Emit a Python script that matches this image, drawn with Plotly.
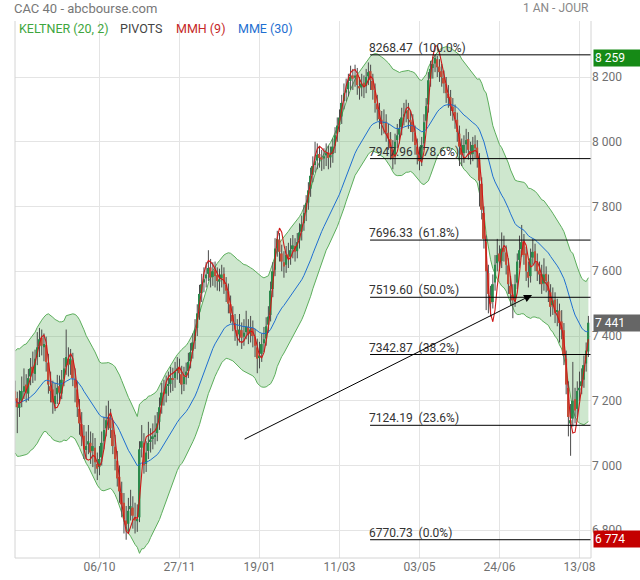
import numpy as np
import plotly.graph_objects as go

# ---------------- data ----------------
tick_index = [38, 74, 110, 146, 182, 218, 254]
tick_labels = ["06/10", "27/11", "19/01", "11/03", "03/05", "24/06", "13/08"]

opens = [
    7230, 7208, 7178, 7200, 7228, 7250, 7222, 7275, 7305, 7283,
    7335, 7368, 7395, 7365, 7372, 7318, 7245, 7235, 7190, 7220,
    7245, 7222, 7268, 7305, 7330, 7312, 7325, 7268, 7235, 7175,
    7128, 7092, 7048, 7065, 7070, 7045, 7055, 7005, 6995, 7025,
    7075, 7115, 7145, 7148, 7110, 7058, 7015, 6965, 6915, 6885,
    6830, 6820, 6865, 6870, 6840, 6828, 6840, 7055, 7070, 7005,
    7045, 7075, 7082, 7088, 7100, 7135, 7185, 7228, 7222, 7248,
    7252, 7268, 7270, 7292, 7305, 7282, 7252, 7278, 7292, 7322,
    7355, 7385, 7425, 7475, 7532, 7565, 7578, 7592, 7612, 7582,
    7605, 7588, 7568, 7578, 7592, 7558, 7538, 7498, 7465, 7440,
    7418, 7405, 7418, 7398, 7412, 7428, 7408, 7425, 7398, 7365,
    7335, 7345, 7378, 7392, 7435, 7465, 7545, 7605, 7672, 7698,
    7655, 7628, 7620, 7652, 7645, 7668, 7678, 7662, 7695, 7722,
    7748, 7782, 7812, 7855, 7898, 7928, 7942, 7962, 7952, 7948,
    7958, 7968, 7952, 7962, 7988, 8025, 8052, 8078, 8125, 8152,
    8162, 8188, 8205, 8198, 8208, 8172, 8168, 8182, 8172, 8202,
    8218, 8188, 8158, 8118, 8098, 8068, 8058, 8062, 8028, 8008,
    7975, 7955, 8005, 8022, 8045, 8078, 8088, 8098, 8068, 8062,
    8028, 7985, 7958, 7945, 7995, 8065, 8115, 8195, 8228, 8242,
    8255, 8232, 8218, 8198, 8178, 8148, 8138, 8108, 8092, 8068,
    8025, 7982, 7965, 7992, 8008, 7972, 7962, 7992, 7982, 7945,
    7870, 7780, 7690, 7595, 7525, 7505, 7565, 7625, 7655, 7632,
    7672, 7658, 7618, 7555, 7528, 7515, 7565, 7635, 7668, 7692,
    7655, 7598, 7585, 7642, 7662, 7628, 7602, 7592, 7562, 7592,
    7568, 7535, 7495, 7512, 7475, 7478, 7445, 7418, 7330, 7240,
    7130, 7145, 7205, 7175, 7232, 7245, 7265, 7315, 7352,
]
highs = [
    7262, 7228, 7232, 7275, 7300, 7282, 7298, 7332, 7352, 7358,
    7412, 7425, 7420, 7408, 7398, 7345, 7290, 7262, 7255, 7280,
    7278, 7295, 7332, 7420, 7365, 7360, 7348, 7300, 7262, 7205,
    7165, 7125, 7105, 7125, 7105, 7100, 7085, 7040, 7060, 7105,
    7150, 7185, 7200, 7175, 7140, 7095, 7045, 7000, 6950, 6915,
    6875, 6900, 6925, 6905, 6885, 6880, 7075, 7125, 7100, 7075,
    7135, 7115, 7130, 7155, 7165, 7210, 7255, 7265, 7278, 7290,
    7305, 7302, 7320, 7335, 7330, 7308, 7305, 7318, 7348, 7378,
    7408, 7452, 7498, 7558, 7592, 7612, 7628, 7665, 7638, 7628,
    7630, 7612, 7608, 7620, 7612, 7582, 7562, 7525, 7492, 7468,
    7452, 7468, 7442, 7452, 7478, 7452, 7462, 7448, 7422, 7392,
    7382, 7408, 7428, 7458, 7492, 7568, 7628, 7702, 7725, 7718,
    7682, 7662, 7678, 7688, 7702, 7712, 7702, 7718, 7748, 7772,
    7805, 7835, 7875, 7920, 7955, 8000, 7995, 7985, 7975, 7980,
    7995, 7988, 7985, 8010, 8045, 8075, 8100, 8145, 8180, 8195,
    8210, 8235, 8225, 8238, 8228, 8200, 8210, 8205, 8225, 8245,
    8238, 8210, 8180, 8145, 8120, 8095, 8100, 8085, 8055, 8030,
    8005, 8025, 8055, 8070, 8105, 8120, 8130, 8120, 8095, 8085,
    8050, 8010, 7985, 8015, 8085, 8135, 8215, 8250, 8262, 8268.47,
    8265, 8255, 8240, 8220, 8200, 8175, 8160, 8135, 8115, 8090,
    8050, 8010, 8020, 8040, 8030, 8000, 8015, 8020, 8005, 7965,
    7890, 7800, 7710, 7620, 7555, 7590, 7650, 7700, 7680, 7720,
    7710, 7680, 7640, 7585, 7560, 7590, 7655, 7710, 7743, 7715,
    7675, 7630, 7670, 7700, 7685, 7655, 7630, 7620, 7640, 7615,
    7590, 7560, 7550, 7535, 7515, 7500, 7480, 7440, 7355, 7260,
    7190, 7320, 7240, 7260, 7290, 7300, 7340, 7380, 7462,
]
lows = [
    7180, 7100, 7150, 7180, 7205, 7195, 7200, 7248, 7255, 7262,
    7310, 7335, 7340, 7322, 7290, 7222, 7195, 7160, 7168, 7190,
    7190, 7205, 7245, 7280, 7275, 7280, 7245, 7195, 7150, 7095,
    7060, 7020, 7020, 7035, 7005, 6995, 6975, 6955, 6970, 7000,
    7050, 7090, 7110, 7085, 7035, 6985, 6935, 6885, 6840, 6790,
    6770.73, 6790, 6830, 6805, 6790, 6795, 6825, 7025, 6975, 6980,
    7020, 7040, 7050, 7065, 7075, 7110, 7160, 7185, 7195, 7215,
    7225, 7230, 7240, 7265, 7255, 7220, 7230, 7250, 7270, 7300,
    7330, 7360, 7400, 7450, 7505, 7535, 7550, 7570, 7550, 7555,
    7550, 7540, 7538, 7550, 7530, 7505, 7470, 7440, 7415, 7385,
    7370, 7380, 7360, 7370, 7390, 7375, 7380, 7365, 7335, 7285,
    7300, 7320, 7350, 7370, 7410, 7445, 7520, 7585, 7645, 7630,
    7600, 7580, 7595, 7610, 7620, 7640, 7630, 7640, 7670, 7695,
    7725, 7755, 7790, 7830, 7875, 7905, 7915, 7920, 7910, 7915,
    7925, 7915, 7920, 7935, 7965, 8000, 8030, 8055, 8100, 8125,
    8140, 8160, 8160, 8170, 8145, 8130, 8140, 8135, 8150, 8175,
    8160, 8130, 8090, 8065, 8040, 8020, 8025, 8000, 7975, 7945,
    7915, 7930, 7980, 7995, 8020, 8050, 8060, 8040, 8030, 8000,
    7960, 7930, 7912, 7925, 7975, 8040, 8090, 8170, 8195, 8215,
    8200, 8185, 8170, 8150, 8120, 8105, 8080, 8065, 8040, 8000,
    7925, 7925, 7935, 7965, 7945, 7930, 7940, 7950, 7920, 7800,
    7760, 7670, 7480, 7470, 7460, 7485, 7540, 7600, 7600, 7610,
    7630, 7590, 7530, 7495, 7455, 7490, 7545, 7610, 7645, 7620,
    7570, 7550, 7565, 7620, 7600, 7570, 7560, 7530, 7540, 7535,
    7505, 7460, 7465, 7440, 7430, 7380, 7390, 7310, 7220, 7090,
    7030, 7120, 7130, 7150, 7200, 7220, 7240, 7290, 7335,
]
closes = [
    7205, 7180, 7195, 7230, 7245, 7225, 7270, 7300, 7285, 7330,
    7365, 7390, 7370, 7375, 7320, 7250, 7230, 7195, 7215, 7240,
    7225, 7265, 7300, 7335, 7310, 7330, 7270, 7240, 7180, 7130,
    7090, 7050, 7060, 7075, 7040, 7060, 7010, 6990, 7020, 7070,
    7110, 7140, 7150, 7115, 7060, 7020, 6960, 6920, 6880, 6835,
    6815, 6860, 6875, 6845, 6830, 6835, 7050, 7075, 7000, 7040,
    7070, 7080, 7090, 7095, 7130, 7180, 7225, 7220, 7245, 7250,
    7270, 7265, 7290, 7300, 7285, 7250, 7275, 7290, 7320, 7350,
    7380, 7420, 7470, 7530, 7560, 7575, 7590, 7610, 7580, 7600,
    7585, 7570, 7575, 7590, 7560, 7540, 7500, 7470, 7445, 7420,
    7400, 7420, 7395, 7410, 7430, 7405, 7420, 7400, 7370, 7330,
    7340, 7375, 7390, 7430, 7460, 7540, 7600, 7670, 7700, 7660,
    7630, 7615, 7650, 7640, 7665, 7680, 7660, 7690, 7720, 7745,
    7780, 7810, 7850, 7895, 7925, 7940, 7960, 7950, 7945, 7955,
    7965, 7950, 7960, 7985, 8020, 8050, 8075, 8120, 8150, 8160,
    8185, 8200, 8195, 8205, 8175, 8165, 8180, 8170, 8200, 8215,
    8190, 8160, 8120, 8100, 8070, 8055, 8060, 8030, 8010, 7980,
    7950, 8000, 8020, 8040, 8075, 8085, 8095, 8070, 8060, 8030,
    7990, 7960, 7940, 7990, 8060, 8110, 8190, 8225, 8240, 8259,
    8230, 8215, 8200, 8180, 8150, 8135, 8110, 8095, 8070, 8030,
    7985, 7960, 7990, 8005, 7975, 7960, 7990, 7980, 7950, 7880,
    7790, 7700, 7600, 7530, 7500, 7560, 7620, 7650, 7630, 7670,
    7660, 7620, 7560, 7530, 7510, 7560, 7630, 7665, 7690, 7650,
    7600, 7580, 7640, 7660, 7630, 7600, 7590, 7560, 7590, 7570,
    7540, 7490, 7510, 7470, 7480, 7440, 7420, 7340, 7250, 7150,
    7140, 7200, 7170, 7230, 7240, 7260, 7310, 7355, 7441,
]

keltner_period, keltner_mult, atr_period = 20, 2, 20
keltner_mid_seed, atr_seed = 7195, 78
mme_period, mme_seed = 30, 7195
mmh_period = 9

# Fibonacci "pivots"
fib_levels = [8268.47, 7947.96, 7696.33, 7519.60, 7342.87, 7124.19, 6770.73]
fib_pcts = [100.0, 78.6, 61.8, 50.0, 38.2, 23.6, 0.0]
fib_start = 159.75

# trend arrow drawn on the chart (bar index, price)
arrow_tail = (102.6, 7079)
arrow_head = (232.65, 7527)

# right-axis price flags
flag_high, flag_low = 8259, 6774

# ---------------- indicators ----------------
o = np.array(opens, float); h = np.array(highs, float)
l = np.array(lows, float); c = np.array(closes, float)
n = len(c)
idx = np.arange(n)


def ema(vals, period, seed):
    a = 2.0 / (period + 1)
    out, prev = [], seed
    for v in vals:
        prev = prev + a * (v - prev)
        out.append(prev)
    return np.array(out)


def wma(vals, period):
    out = []
    for t in range(len(vals)):
        k = min(period, t + 1)
        w = np.arange(1, k + 1)
        out.append(np.dot(vals[t - k + 1:t + 1], w) / w.sum())
    return np.array(out)


prev_c = np.concatenate([[c[0]], c[:-1]])
tr = np.maximum(h - l, np.maximum(abs(h - prev_c), abs(l - prev_c)))
atr = ema(tr, atr_period, atr_seed)
kmid = ema(c, keltner_period, keltner_mid_seed)
kup = kmid + keltner_mult * atr
klo = kmid - keltner_mult * atr
mme = ema(c, mme_period, mme_seed)
raw = 2 * wma(c, mmh_period // 2) - wma(c, mmh_period)
mmh = wma(raw, int(round(np.sqrt(mmh_period))))

# ---------------- figure ----------------
GREEN_BODY = "#2a8a4c"
RED_BODY = "#c24e38"
FONT = "Roboto"

fig = go.Figure()
fig.add_trace(go.Scatter(x=idx, y=klo, mode="lines", line=dict(color="#5cae5c", width=1),
                         hoverinfo="skip"))
fig.add_trace(go.Scatter(x=idx, y=kup, mode="lines", line=dict(color="#5cae5c", width=1),
                         fill="tonexty", fillcolor="rgba(80,170,80,0.28)", hoverinfo="skip"))

wx, wy = [], []
for i in range(n):
    wx += [i, i, None]
    wy += [l[i], h[i], None]
fig.add_trace(go.Scatter(x=wx, y=wy, mode="lines", line=dict(color="#4a4a4a", width=1),
                         hoverinfo="skip"))

body_base = np.minimum(o, c)
body_h = np.abs(c - o)
body_col = [GREEN_BODY if c[i] >= o[i] else RED_BODY for i in range(n)]
fig.add_trace(go.Bar(x=idx, y=body_h, base=body_base, width=0.85, yaxis="y2",
                     marker=dict(color=body_col, line=dict(width=0)), hoverinfo="skip"))
fig.add_trace(go.Scatter(x=idx, y=mme, mode="lines", yaxis="y2",
                         line=dict(color="#1f6fd1", width=1), hoverinfo="skip"))
fig.add_trace(go.Scatter(x=idx, y=mmh, mode="lines", yaxis="y2",
                         line=dict(color="#d01818", width=1.1), hoverinfo="skip"))

x_range = [-0.03, 259.18]
y_range = [6714.3, 8373]

shapes = []
annotations = []
for lvl, pct in zip(fib_levels, fib_pcts):
    shapes.append(dict(type="line", xref="x", yref="y", x0=fib_start, x1=x_range[1],
                       y0=lvl, y1=lvl, line=dict(color="black", width=1)))
    annotations.append(dict(xref="x", yref="y", x=fib_start, y=lvl, xanchor="left",
                            yanchor="bottom", showarrow=False, xshift=-3, yshift=-2,
                            text=f"{lvl:.2f}\u00a0 ({pct:.1f}%)",
                            font=dict(family=FONT, size=12, color="#333333")))

# borders
border = "#d4d4d4"
shapes += [
    dict(type="line", xref="paper", yref="paper", x0=0, x1=0, y0=0, y1=1, line=dict(color=border, width=1)),
    dict(type="line", xref="paper", yref="paper", x0=1, x1=1, y0=0, y1=1, line=dict(color=border, width=1)),
    dict(type="line", xref="paper", yref="paper", x0=0, x1=1, y0=0, y1=0, line=dict(color=border, width=1)),
]

annotations.append(dict(xref="x", yref="y", axref="x", ayref="y",
                        x=arrow_head[0], y=arrow_head[1], ax=arrow_tail[0], ay=arrow_tail[1],
                        text="", showarrow=True, arrowhead=2, arrowsize=1.6, arrowwidth=1,
                        arrowcolor="black", standoff=0, startstandoff=0))


def fmt(v):
    return f"{int(round(v)):,}".replace(",", " ")


for val, bg in [(flag_high, "#168a16"), (c[-1], "#666666"), (flag_low, "#c40000")]:
    annotations.append(dict(xref="paper", yref="y", x=1, y=val, xanchor="left", yanchor="middle",
                            xshift=2, showarrow=False, text=fmt(val), align="left", width=44,
                            bgcolor=bg, borderpad=1,
                            font=dict(family=FONT, size=12, color="white")))

annotations.append(dict(xref="paper", yref="paper", x=0, y=1, xanchor="left", yanchor="middle",
                        yshift=13, xshift=-3, showarrow=False, text="CAC 40 - abcbourse.com",
                        font=dict(family=FONT, size=13, color="#777777")))
annotations.append(dict(xref="paper", yref="paper", x=1, y=1, xanchor="right", yanchor="middle",
                        yshift=13, showarrow=False, text="1 AN - JOUR",
                        font=dict(family=FONT, size=12, color="#888888")))

legend_items = [("KELTNER (20, 2)", "#3ea63e", 19), ("PIVOTS", "#444444", 120),
                ("MMH (9)", "#c62828", 176), ("MME (30)", "#1f6fd1", 238)]
for txt, col, px in legend_items:
    annotations.append(dict(xref="paper", yref="paper", x=(px - 15) / 576, y=1, xanchor="left",
                            yanchor="middle", yshift=-7, xshift=-2, showarrow=False, text=txt,
                            font=dict(family=FONT, size=12.5, color=col)))

fig.update_layout(
    width=640, height=580, autosize=False,
    margin=dict(l=15, r=49, t=21, b=22, autoexpand=False),
    paper_bgcolor="white", plot_bgcolor="white",
    showlegend=False, hovermode=False, barmode="overlay",
    separators=", ",
    font=dict(family=FONT, size=12, color="#777777"),
    xaxis=dict(range=x_range, tickmode="array", tickvals=tick_index, ticktext=tick_labels,
               showgrid=True, gridcolor="#e4e4e4", gridwidth=1, zeroline=False, showline=False,
               ticks="", automargin=False, tickfont=dict(family=FONT, size=12, color="#707070")),
    yaxis=dict(range=y_range, side="right", tick0=6800, dtick=200, showgrid=True,
               gridcolor="#e4e4e4", gridwidth=1, zeroline=False, showline=False, ticks="",
               automargin=False, separatethousands=True, tickformat=",d",
               tickfont=dict(family=FONT, size=12, color="#707070")),
    yaxis2=dict(range=y_range, overlaying="y", matches="y", visible=False, automargin=False),
    shapes=shapes, annotations=annotations,
)

fig.write_html("out.html", config={"responsive": False, "displayModeBar": False},
               post_script="document.body.style.margin='0px';document.body.style.overflow='hidden';")
